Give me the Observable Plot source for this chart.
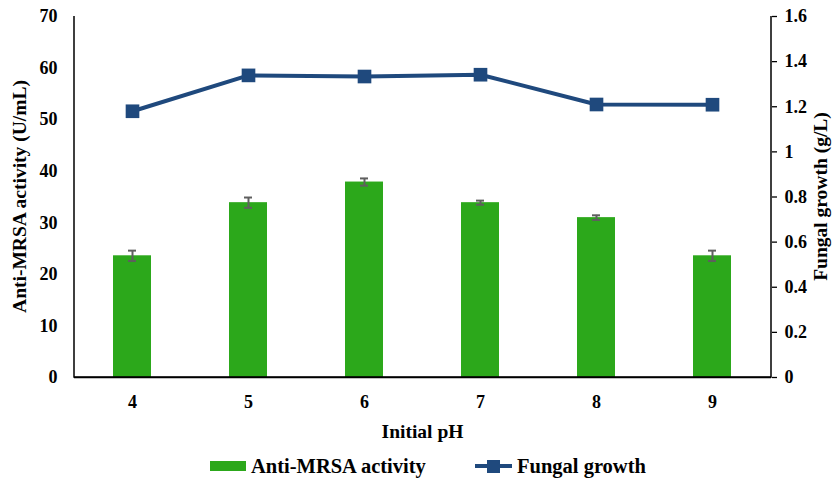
<!DOCTYPE html>
<html>
<head>
<meta charset="utf-8">
<script src="https://cdn.jsdelivr.net/npm/d3@7"></script>
<script src="https://cdn.jsdelivr.net/npm/@observablehq/plot@0.6"></script>
<style>
  body { margin: 0; background: #fff; font-family: "Liberation Serif", "Times New Roman", serif; }
  #wrap { width: 838px; position: relative; }
  #legend { position: relative; height: 32px; font-weight: bold; font-size: 20.5px; color: #000; }
  .item { position: absolute; top: 3px; display: flex; align-items: center; height: 30px; }
</style>
</head>
<body>
<div id="wrap">
  <div id="chart"></div>
  <div id="legend"></div>
</div>
<script>
const pH = ["4", "5", "6", "7", "8", "9"];
const activity = [23.6, 33.9, 37.9, 33.9, 31.0, 23.6];
const activityErr = [1.0, 1.0, 0.7, 0.4, 0.45, 1.0];
const growth = [1.18, 1.339, 1.334, 1.342, 1.21, 1.209];
const leftTicks = [0, 10, 20, 30, 40, 50, 60, 70];
const rightTicks = [0, 0.2, 0.4, 0.6, 0.8, 1, 1.2, 1.4, 1.6];
const leftMax = 70, rightMax = 1.6;
const k = leftMax / rightMax;

const green = "#2ca81b";
const blue = "#1f497d";
const font = "Liberation Serif, Times New Roman, serif";
const tickFS = 18, titleFS = 19.5;

const data = pH.map((p, i) => ({ pH: p, act: activity[i], err: activityErr[i], growth: growth[i] }));

const plot = Plot.plot({
  width: 838,
  height: 448,
  marginTop: 16,
  marginLeft: 74,
  marginRight: 67,
  marginBottom: 71,
  style: { fontFamily: font, fontWeight: "bold", fontSize: tickFS + "px", color: "#000", background: "#fff" },
  x: { domain: pH, paddingInner: 0.67, paddingOuter: 0.335 },
  y: { domain: [0, leftMax] },
  marks: [
    Plot.barY(data, { x: "pH", y: "act", fill: green }),
    Plot.ruleX(data, { x: "pH", y1: d => d.act - d.err, y2: d => d.act + d.err, stroke: "#5f5f5f", strokeWidth: 2 }),
    Plot.tickY(data, { x: "pH", y: d => d.act - d.err, stroke: "#5f5f5f", strokeWidth: 2, insetLeft: 15, insetRight: 15 }),
    Plot.tickY(data, { x: "pH", y: d => d.act + d.err, stroke: "#5f5f5f", strokeWidth: 2, insetLeft: 15, insetRight: 15 }),
    Plot.line(data, { x: "pH", y: d => d.growth * k, stroke: blue, strokeWidth: 4 }),
    Plot.dot(data, { x: "pH", y: d => d.growth * k, symbol: "square", r: 7.7, fill: blue, stroke: "none" }),
    Plot.axisX({ tickSize: 0, tickPadding: 18, label: null, fontSize: tickFS }),
    Plot.axisY(leftTicks, { anchor: "left", tickSize: 0, tickPadding: 17, label: null, fontSize: tickFS }),
    Plot.axisY(rightTicks.map(v => v * k), { anchor: "right", tickSize: 5, tickPadding: 8, tickFormat: v => d3.format("~g")(+(v / k).toFixed(2)), label: null, fontSize: tickFS, strokeWidth: 1.3 }),
    Plot.ruleY([0], { stroke: "#000", strokeWidth: 1.5 })
  ]
});

const xs = plot.scale("x"), ys = plot.scale("y");
const x0 = xs.range[0], x1 = xs.range[1];
const yTop = ys.apply(leftMax), yBot = ys.apply(0);
const svg = d3.select(plot);
svg.append("path")
  .attr("d", `M${x0},${yTop}V${yBot}H${x1}V${yTop}`)
  .attr("fill", "none").attr("stroke", "#000").attr("stroke-width", 1.5);

function title(txt, x, y, rot) {
  svg.append("text")
    .attr("transform", `translate(${x},${y})` + (rot ? ` rotate(${rot})` : ""))
    .attr("text-anchor", "middle").attr("dy", "0.35em")
    .attr("font-family", font).attr("font-weight", "bold").attr("font-size", titleFS)
    .attr("fill", "#000")
    .text(txt);
}
title("Initial pH", (x0 + x1) / 2, yBot + 54, 0);
title("Anti-MRSA activity (U/mL)", x0 - 55, (yTop + yBot) / 2, -90);
title("Fungal growth (g/L)", x1 + 49, (yTop + yBot) / 2, -90);

document.getElementById("chart").appendChild(plot);

const legend = document.getElementById("legend");
legend.innerHTML = `
  <div class="item" style="left:210px">
    <svg width="38" height="14"><rect x="0" y="2" width="36" height="10" fill="${green}"/></svg>
    <span style="margin-left:3px">Anti-MRSA activity</span>
  </div>
  <div class="item" style="left:475px">
    <svg width="40" height="16"><line x1="0" y1="8" x2="37" y2="8" stroke="${blue}" stroke-width="4"/><rect x="12" y="2" width="13" height="13" fill="${blue}"/></svg>
    <span style="margin-left:2px">Fungal growth</span>
  </div>`;
</script>
</body>
</html>
